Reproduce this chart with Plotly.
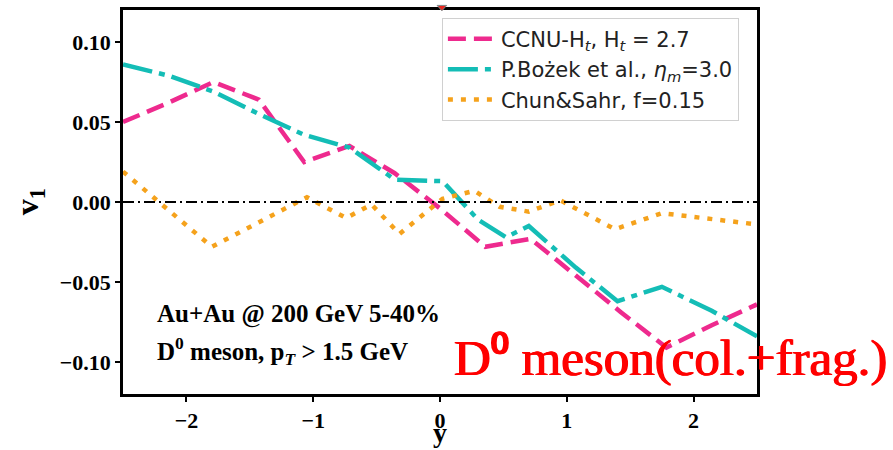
import plotly.graph_objects as go

# Rapidity grid for the CCNU curve
y_grid = [-2.5, -2.143, -1.786, -1.429, -1.071, -0.714, -0.357, 0.0,
          0.357, 0.714, 1.071, 1.429, 1.786, 2.143, 2.5]

# CCNU-Ht, Ht = 2.7
v1_ccnu = [0.050, 0.062, 0.075, 0.064, 0.025, 0.035, 0.018, -0.004,
           -0.028, -0.023, -0.046, -0.069, -0.091, -0.077, -0.064]

# P.Bozek et al., eta_m = 3.0
y_bozek = [-2.5, -2.143, -1.786, -1.429, -1.071, -0.714, -0.357, 0.02,
           0.30, 0.52, 0.70, 1.071, 1.40, 1.75, 2.143, 2.5]
v1_bozek = [0.086, 0.079, 0.069, 0.055, 0.042, 0.034, 0.014, 0.013,
            -0.011, -0.022, -0.015, -0.041, -0.062, -0.053, -0.068, -0.084]

# Chun&Sahr, f = 0.15
y_chun = [-2.5, -1.8, -1.05, -0.74, -0.54, -0.32, 0.02, 0.27, 0.47,
          0.70, 0.95, 1.38, 1.75, 2.5]
v1_chun = [0.019, -0.028, 0.003, -0.010, -0.0015, -0.020, 0.002, 0.007,
           -0.003, -0.006, 0.001, -0.017, -0.007, -0.014]

x_ticks = [-2, -1, 0, 1, 2]
y_ticks = [-0.10, -0.05, 0.00, 0.05, 0.10]

SERIF = "Liberation Serif"
SANS = "DejaVu Sans"

fig = go.Figure()

fig.add_trace(go.Scatter(
    x=y_grid, y=v1_ccnu, mode="lines",
    name="CCNU-H<sub><i>t</i></sub>, H<sub><i>t</i></sub> = 2.7",
    line=dict(color="#EE2A8E", width=4.5, dash="18px,8px"),
))
fig.add_trace(go.Scatter(
    x=y_bozek, y=v1_bozek, mode="lines",
    name="P.Bożek et al., <i>η<sub>m</sub></i>=3.0",
    line=dict(color="#14BDB6", width=4.5, dash="30px,7px,6px,7px"),
))
fig.add_trace(go.Scatter(
    x=y_chun, y=v1_chun, mode="lines",
    name="Chun&Sahr, f=0.15",
    line=dict(color="#F5A21C", width=4.5, dash="5px,8px"),
))

# zero reference line
fig.add_hline(y=0, line=dict(color="black", width=1.8, dash="11px,4px,2px,4px"))

# small marker peeking in at the top edge
fig.add_shape(type="path", xref="paper", yref="paper",
              path="M 0.4955 1.012 L 0.503 0.998 L 0.5105 1.012 Z",
              fillcolor="#E8261E", line=dict(color="#7A8A8C", width=1))

# axis titles
fig.add_annotation(
    x=0.5, y=-0.146, xref="paper", yref="paper", xanchor="center", yanchor="bottom",
    text="<b>y</b>", showarrow=False,
    font=dict(family=SERIF, size=28, color="black"),
)
fig.add_annotation(
    x=-0.148, y=0.5, xref="paper", yref="paper", xanchor="center", yanchor="middle",
    text="<b>v<sub>1</sub></b>", showarrow=False, textangle=-90,
    font=dict(family=SERIF, size=32, color="black"),
)

fig.add_annotation(
    x=0.050, y=0.208, xref="paper", yref="paper", xanchor="left", yanchor="middle",
    text="<b>Au+Au @ 200 GeV 5-40%</b>", showarrow=False,
    font=dict(family=SERIF, size=25, color="black"),
)
fig.add_annotation(
    x=0.050, y=0.112, xref="paper", yref="paper", xanchor="left", yanchor="middle",
    text="<b>D<sup>0</sup> meson, p<sub><i>T</i></sub> &gt; 1.5 GeV</b>", showarrow=False,
    font=dict(family=SERIF, size=25, color="black"),
)
fig.add_annotation(
    x=0.519, y=0.095, xref="paper", yref="paper", xanchor="left", yanchor="middle",
    text="D⁰ meson(col.+frag.)", showarrow=False,
    font=dict(family=SERIF, size=51, color="#FF0000",
              shadow="0.7px 0 0 #FF0000, -0.7px 0 0 #FF0000"),
)

fig.update_layout(
    width=893, height=450,
    margin=dict(l=123, r=136, t=10, b=56),
    paper_bgcolor="white", plot_bgcolor="white",
    showlegend=True,
    legend=dict(
        x=0.503, y=0.98, xanchor="left", yanchor="top",
        bgcolor="rgba(255,255,255,0.85)", bordercolor="#D0D0D0", borderwidth=1,
        font=dict(family=SANS, size=21, color="#222222"),
        tracegroupgap=0, itemwidth=48,
    ),
    xaxis=dict(
        range=[-2.5, 2.5], tickvals=x_ticks, ticks="outside", ticklen=5,
        tickwidth=1.5, tickcolor="black", automargin=False,
        showgrid=False, zeroline=False, showline=True, linecolor="black",
        linewidth=2.5, mirror=True,
        tickfont=dict(family=SERIF, size=22, color="black", weight="bold"),
    ),
    yaxis=dict(
        range=[-0.12, 0.12], tickvals=y_ticks, tickformat=".2f", ticks="outside",
        ticklen=5, tickwidth=1.5, tickcolor="black", automargin=False,
        showgrid=False, zeroline=False, showline=True, linecolor="black",
        linewidth=2.5, mirror=True,
        tickfont=dict(family=SERIF, size=22, color="black", weight="bold"),
    ),
)

fig.write_html("out.html")
